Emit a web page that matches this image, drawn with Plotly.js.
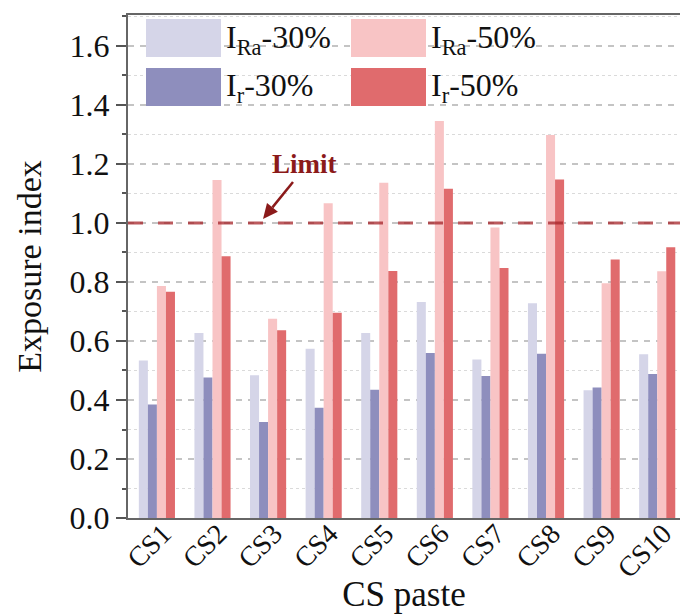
<!DOCTYPE html>
<html>
<head>
<meta charset="utf-8">
<script src="https://cdn.plot.ly/plotly-3.0.1.min.js"></script>
<style>html,body{margin:0;padding:0;overflow:hidden;background:#fff;}</style>
</head>
<body>
<div id="chart" style="width:680px;height:614px;"></div>
<script>
// ---- data ----
const categories = ["CS1","CS2","CS3","CS4","CS5","CS6","CS7","CS8","CS9","CS10"];
const iRa30 = [0.534, 0.627, 0.484, 0.574, 0.627, 0.732, 0.537, 0.728, 0.433, 0.555];
const iR30  = [0.385, 0.476, 0.325, 0.374, 0.435, 0.559, 0.481, 0.557, 0.442, 0.488];
const iRa50 = [0.786, 1.146, 0.675, 1.067, 1.136, 1.346, 0.985, 1.298, 0.796, 0.836];
const iR50  = [0.767, 0.887, 0.636, 0.696, 0.837, 1.116, 0.847, 1.147, 0.876, 0.918];
const seriesNames = ["I<sub>Ra</sub>-30%", "I<sub>r</sub>-30%", "I<sub>Ra</sub>-50%", "I<sub>r</sub>-50%"];
const limitValue = 1.0;
const limitLabel = "Limit";
const xTitle = "CS paste";
const yTitle = "Exposure index";

// ---- style ----
const colors = ["#d5d5e8", "#8e8ebd", "#f8c4c5", "#e06b6d"];
const FONT = "Liberation Serif, Times New Roman, serif";
const W = 680, H = 614;
const M = {l: 128, r: 0, t: 15, b: 96};
const PW = W - M.l - M.r, PH = H - M.t - M.b;
const px = x => (x - M.l) / PW;        // pixel -> paper x
const py = y => (H - M.b - y) / PH;    // pixel -> paper y

const allSeries = [iRa30, iR30, iRa50, iR50];
const traces = allSeries.map((vals, i) => ({
  type: "bar",
  x: categories,
  y: vals,
  name: seriesNames[i],
  marker: {color: colors[i], line: {width: 0}},
  showlegend: false,
  hoverinfo: "x+y"
}));

// custom legend (large swatches)
const legendPos = [
  {x0: 146, y0: 19},   // IRa-30%
  {x0: 146, y0: 68},   // Ir-30%
  {x0: 351, y0: 19},   // IRa-50%
  {x0: 351, y0: 68}    // Ir-50%
];
const shapes = [];
const annotations = [];
legendPos.forEach((p, i) => {
  shapes.push({
    type: "rect", xref: "paper", yref: "paper",
    x0: px(p.x0), x1: px(p.x0 + 75), y0: py(p.y0 + 38), y1: py(p.y0),
    fillcolor: colors[i], line: {width: 0}, layer: "above"
  });
  annotations.push({
    xref: "paper", yref: "paper", x: px(p.x0 + 78), y: py(p.y0 + 20),
    xanchor: "left", yanchor: "middle", showarrow: false,
    text: seriesNames[i], font: {family: FONT, size: 32, color: "#111"}
  });
});

// limit line
shapes.push({
  type: "line", xref: "paper", yref: "y", x0: 0, x1: 1, y0: limitValue, y1: limitValue,
  line: {color: "rgba(165,35,40,0.75)", width: 3, dash: "15px,15px"}, layer: "above"
});
// arrow pointing at the limit line (shaft + head)
const tail = [293, 182], tip = [263, 219];
const ang = Math.atan2(tip[1] - tail[1], tip[0] - tail[0]);
const hl = 15, hw = 7;
const bx = tip[0] - hl * Math.cos(ang), by = tip[1] - hl * Math.sin(ang);
const nx = -Math.sin(ang), ny = Math.cos(ang);
shapes.push({
  type: "line", xref: "paper", yref: "paper",
  x0: px(tail[0]), y0: py(tail[1]), x1: px(bx), y1: py(by),
  line: {color: "#8b1a1a", width: 2.5}, layer: "above"
});
shapes.push({
  type: "path", xref: "paper", yref: "paper",
  path: `M ${px(tip[0])} ${py(tip[1])} L ${px(bx + hw * nx)} ${py(by + hw * ny)} L ${px(bx - hw * nx)} ${py(by - hw * ny)} Z`,
  fillcolor: "#8b1a1a", line: {width: 0}, layer: "above"
});
annotations.push({
  xref: "paper", yref: "paper", x: px(304), y: py(164),
  xanchor: "center", yanchor: "middle", showarrow: false,
  text: "<b>" + limitLabel + "</b>", font: {family: FONT, size: 27, color: "#8b1a1a"}
});

const layout = {
  width: W, height: H,
  margin: M,
  paper_bgcolor: "#fff", plot_bgcolor: "#fff",
  barmode: "group", bargap: 0.35, bargroupgap: 0,
  font: {family: FONT, color: "#111"},
  xaxis: {
    type: "category",
    range: [-0.52, 9.41],
    tickangle: -45,
    ticklabelshift: 6,
    ticklabelstandoff: -14,
    tickfont: {family: FONT, size: 28, color: "#111"},
    showline: true, linecolor: "#666", linewidth: 2, mirror: true,
    ticks: "", showgrid: false, zeroline: false,
    title: {text: xTitle, font: {family: FONT, size: 35, color: "#111"}, standoff: 4}
  },
  yaxis: {
    range: [0, 1.705],
    dtick: 0.2, tick0: 0,
    tickformat: ".1f",
    tickfont: {family: FONT, size: 32, color: "#111"},
    showline: true, linecolor: "#666", linewidth: 2,
    ticks: "outside", ticklen: 10, tickwidth: 2, tickcolor: "#555",
    showgrid: true, gridcolor: "#c4c4c4", gridwidth: 1.5, griddash: "6px,6px",
    zeroline: false,
    minor: {dtick: 0.1, showgrid: true, gridcolor: "#dadada", gridwidth: 1.2, griddash: "dot",
            ticks: "outside", ticklen: 4, tickwidth: 2, tickcolor: "#555"},
    title: {text: yTitle, font: {family: FONT, size: 34, color: "#111"}, standoff: 18}
  },
  shapes: shapes,
  annotations: annotations
};

Plotly.newPlot("chart", traces, layout, {displayModeBar: false, staticPlot: true});
</script>
</body>
</html>
